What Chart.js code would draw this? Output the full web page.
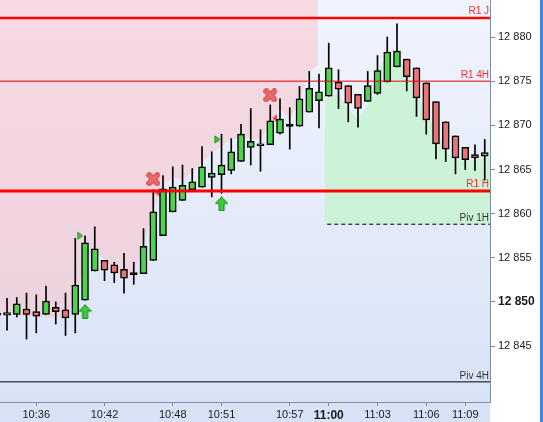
<!DOCTYPE html>
<html>
<head>
<meta charset="utf-8">
<script src="https://cdn.jsdelivr.net/npm/chart.js@4.4.0/dist/chart.umd.min.js"></script>
<style>
  html, body { margin: 0; padding: 0; background: #fff; }
  #wrap { width: 543px; height: 422px; position: relative; }
</style>
</head>
<body>
<div id="wrap"><canvas id="chart"></canvas></div>
<script>
// candles, first one sits just left of the visible area (index -1)
const firstIndex = -1;
const opens  = [12848.5, 12848.5, 12848.6, 12849.2, 12848.9, 12848.6, 12849.4, 12849.1, 12848.6, 12850.2,
                12853.5, 12854.7, 12854.2, 12853.7, 12853.2, 12853.2, 12854.7, 12857.5, 12860.2, 12861.5,
                12862.7, 12863.0, 12864.1, 12864.4, 12864.9, 12865.9, 12867.5, 12867.9, 12867.8, 12869.1,
                12870.0, 12869.9, 12871.5, 12872.8, 12873.3, 12874.9, 12874.5, 12873.5, 12872.7, 12873.6,
                12874.9, 12876.6, 12877.5, 12876.5, 12874.8, 12872.7, 12870.4, 12868.8, 12867.5, 12866.7,
                12866.5];
const closes = [12848.7, 12848.8, 12849.8, 12848.6, 12848.4, 12850.1, 12848.9, 12848.2, 12851.9, 12856.7,
                12856.0, 12853.6, 12853.3, 12852.7, 12853.2, 12856.3, 12860.2, 12862.8, 12863.0, 12863.2,
                12863.6, 12865.3, 12864.6, 12865.5, 12867.0, 12869.0, 12868.2, 12867.7, 12870.5, 12870.7,
                12870.0, 12873.0, 12874.2, 12873.8, 12876.5, 12874.1, 12872.5, 12871.9, 12874.5, 12876.2,
                12878.3, 12878.4, 12875.5, 12873.1, 12870.6, 12867.9, 12867.3, 12866.3, 12866.1, 12866.3,
                12866.9];
const highs  = [12849.6, 12850.4, 12850.5, 12851.0, 12850.8, 12851.8, 12850.0, 12851.0, 12857.2, 12857.5,
                12858.5, 12854.7, 12854.5, 12855.5, 12854.5, 12858.3, 12862.7, 12864.3, 12865.3, 12865.5,
                12865.1, 12867.6, 12867.0, 12869.0, 12868.5, 12870.1, 12871.9, 12869.5, 12872.3, 12873.0,
                12872.0, 12874.4, 12876.1, 12875.8, 12879.3, 12876.3, 12874.5, 12873.5, 12876.1, 12877.9,
                12880.0, 12881.5, 12877.5, 12876.5, 12874.8, 12872.7, 12870.4, 12868.8, 12867.5, 12867.8,
                12868.4];
const lows   = [12847.6, 12846.8, 12848.3, 12845.8, 12846.5, 12848.6, 12847.5, 12846.2, 12846.5, 12850.2,
                12853.5, 12852.4, 12852.2, 12851.0, 12852.0, 12853.2, 12854.7, 12857.5, 12860.2, 12861.5,
                12862.7, 12863.0, 12861.9, 12862.3, 12864.5, 12865.9, 12865.5, 12864.8, 12867.8, 12869.0,
                12867.3, 12869.9, 12871.5, 12869.7, 12873.3, 12871.9, 12870.4, 12869.8, 12872.7, 12873.5,
                12874.9, 12876.6, 12873.9, 12871.0, 12869.0, 12866.2, 12865.9, 12864.5, 12865.0, 12864.9,
                12863.8];

// time axis labels and the candle each sits under
const xTickLabels = ['10:36', '10:42', '10:48', '10:51', '10:57', '11:00', '11:03', '11:06', '11:09'];
const xTickIndex  = [3, 10, 17, 22, 29, 33, 38, 43, 47];
const yTicks = [12845, 12850, 12855, 12860, 12865, 12870, 12875, 12880];

// pivot / resistance levels
const levelNames  = ['R1 J', 'R1 4H', 'R1 H', 'Piv 1H', 'Piv 4H'];
const levelValues = [12882.15, 12875.0, 12862.55, 12858.8, 12840.95];
const levelFrom   = [null, null, null, 32.85, null];

// shaded zones
const redZoneX = [-0.72, 0, 1, 2, 3, 4, 5, 6, 7, 8, 9, 10, 11, 12, 13, 14, 15, 16, 17, 18, 19, 20,
                  21, 22, 23, 24, 25, 26, 27, 28, 29, 30, 31, 31.9];
const redZoneY = [12848.8, 12848.6, 12848.4, 12848.4, 12848.3, 12848.3, 12848.3, 12848.2, 12850.3, 12854.5,
                  12855.9, 12854.8, 12853.7, 12852.7, 12853.1, 12856.5, 12860.4, 12863.2, 12864.1, 12863.8,
                  12864.7, 12865.8, 12866.9, 12867.6, 12868.4, 12868.7, 12868.4, 12868.4, 12870.1, 12872.0,
                  12870.6, 12872.9, 12876.1, 12876.8];
const greenZoneX = [32.6, 33, 34, 35, 36, 37, 38, 39, 40, 41, 42, 43, 44, 45, 46, 47, 48, 49, 49.54];
const greenZoneY = [12872.9, 12873.2, 12873.7, 12871.8, 12870.8, 12872.3, 12876.1, 12878.0, 12878.2, 12876.1,
                    12873.7, 12871.5, 12869.2, 12867.2, 12866.1, 12865.9, 12866.1, 12866.3, 12866.3];

// signal markers
const buyArrows  = [{x: 8, y: 12848.9}, {x: 22, y: 12861.1}];
const greenFlags = [{x: 7.49, y: 12857.5}, {x: 21.57, y: 12868.4}];
const redCrosses = [{x: 15, y: 12863.9}, {x: 27, y: 12873.4}];
const redFlags   = [{x: 15.38, y: 12862.4}, {x: 27.44, y: 12870.8}];

const xMin = -0.72, xMax = 49.54;
const yMin = 12838.67, yMax = 12884.19;

const idx = opens.map((_, k) => firstIndex + k);
const bodies = idx.map((x, k) => {
  const o = opens[k], c = closes[k];
  if (Math.abs(o - c) < 0.1) return {x, y: [o - 0.12, o + 0.12]};
  return {x, y: [o, c]};
});
const bodyColors = idx.map((x, k) => {
  const o = opens[k], c = closes[k];
  if (Math.abs(o - c) < 0.1) return '#000';
  return c > o ? '#4fd24f' : '#e87676';
});
const wicks = idx.map((x, k) => ({x, y: [lows[k], highs[k]]}));

function icon(w, h, draw) {
  const c = document.createElement('canvas');
  c.width = w; c.height = h;
  draw(c.getContext('2d'));
  return c;
}
const arrowIcon = icon(13, 15, g => {
  g.beginPath();
  g.moveTo(6.5, 0.5); g.lineTo(12.5, 7); g.lineTo(9, 7); g.lineTo(9, 14.5);
  g.lineTo(4, 14.5); g.lineTo(4, 7); g.lineTo(0.5, 7); g.closePath();
  g.fillStyle = '#3ec93e'; g.fill();
  g.strokeStyle = '#0d8a0d'; g.lineWidth = 1; g.stroke();
});
const greenFlagIcon = icon(7, 9, g => {
  g.beginPath(); g.moveTo(1, 1); g.lineTo(6, 4.5); g.lineTo(1, 8); g.closePath();
  g.fillStyle = '#3ccf3c'; g.fill();
  g.strokeStyle = '#119011'; g.lineWidth = 1; g.stroke();
});
const redFlagIcon = icon(7, 10, g => {
  g.beginPath(); g.moveTo(6, 1); g.lineTo(1, 5); g.lineTo(6, 9); g.closePath();
  g.fillStyle = '#e44a4a'; g.fill();
});
const crossIcon = icon(14, 14, g => {
  g.lineCap = 'round';
  const xs = () => { g.beginPath(); g.moveTo(3, 3); g.lineTo(11, 11); g.moveTo(11, 3); g.lineTo(3, 11); g.stroke(); };
  g.strokeStyle = '#c94646'; g.lineWidth = 5.5; xs();
  g.strokeStyle = '#ee6a6a'; g.lineWidth = 3.5; xs();
});

const levelStyles = [
  {color: '#ff0000', width: 2.5, dash: []},
  {color: '#e00000', width: 1, dash: []},
  {color: '#ff0000', width: 3, dash: []},
  {color: '#000000', width: 1, dash: [4, 3]},
  {color: '#000000', width: 1, dash: []}
];
const levelLabelColors = ['#ff2a2a', '#ff2a2a', '#ff2a2a', '#333', '#333'];

const levelSets = levelValues.map((v, k) => ({
  type: 'line',
  data: [{x: levelFrom[k] === null ? xMin : levelFrom[k], y: v}, {x: xMax, y: v}],
  borderColor: levelStyles[k].color,
  borderWidth: levelStyles[k].width,
  borderDash: levelStyles[k].dash,
  pointRadius: 0,
  fill: false,
  order: 1
}));

const backdrop = {
  id: 'backdrop',
  beforeDraw(chart) {
    const {ctx, chartArea: a, width, height} = chart;
    ctx.save();
    const grad = ctx.createLinearGradient(0, 0, 0, height);
    grad.addColorStop(0, '#f0f4fd');
    grad.addColorStop(1, '#d8e2f6');
    ctx.fillStyle = grad;
    ctx.fillRect(0, 0, a.right, height);
    ctx.fillStyle = '#ffffff';
    ctx.fillRect(a.right, 0, width - a.right, height);
    ctx.fillStyle = '#3d8ae4';
    ctx.fillRect(width - 3, 0, 3, height);
    ctx.restore();
  }
};

const levelLabels = {
  id: 'levelLabels',
  afterDatasetsDraw(chart) {
    const {ctx, chartArea: a} = chart;
    const y = chart.scales.y;
    ctx.save();
    ctx.font = '10px "Liberation Sans", Arial, sans-serif';
    ctx.textAlign = 'right';
    ctx.textBaseline = 'alphabetic';
    levelValues.forEach((v, k) => {
      const py = y.getPixelForValue(v);
      ctx.fillStyle = levelLabelColors[k];
      ctx.fillText(levelNames[k], a.right - 1, py - 2.5 - levelStyles[k].width / 2);
    });
    ctx.restore();
  }
};

const fontFamily = '"Liberation Sans", Arial, sans-serif';

new Chart(document.getElementById('chart'), {
  type: 'bar',
  data: {
    datasets: [
      ...levelSets,
      {type: 'scatter', data: buyArrows, pointStyle: arrowIcon, pointRadius: 6, order: 2},
      {type: 'scatter', data: greenFlags, pointStyle: greenFlagIcon, pointRadius: 4, order: 2},
      {type: 'scatter', data: redCrosses, pointStyle: crossIcon, pointRadius: 6, order: 2},
      {
        type: 'bar', data: bodies, backgroundColor: bodyColors, borderColor: '#000',
        borderWidth: 1.5, borderSkipped: false, barThickness: 7, grouped: false, order: 3
      },
      {type: 'bar', data: wicks, backgroundColor: '#000', barThickness: 1, grouped: false, order: 4},
      {type: 'scatter', data: redFlags, pointStyle: redFlagIcon, pointRadius: 4, order: 5},
      {
        type: 'line', data: greenZoneX.map((x, k) => ({x, y: greenZoneY[k]})),
        borderWidth: 0, pointRadius: 0, tension: 0,
        backgroundColor: 'rgba(196, 244, 206, 0.8)', fill: {value: levelValues[3]}, order: 6
      },
      {
        type: 'line', data: redZoneX.map((x, k) => ({x, y: redZoneY[k]})),
        borderWidth: 0, pointRadius: 0, tension: 0,
        backgroundColor: 'rgba(255, 186, 194, 0.45)', fill: 'end', order: 7
      }
    ]
  },
  options: {
    responsive: true,
    maintainAspectRatio: false,
    animation: false,
    layout: {autoPadding: false, padding: {left: 0, right: 3, top: 0, bottom: 0}},
    plugins: {legend: {display: false}, tooltip: {enabled: false}},
    scales: {
      x: {
        type: 'linear', min: xMin, max: xMax, offset: false,
        grid: {offset: false, drawOnChartArea: false, drawTicks: true, tickLength: 4, color: '#7f8ea3'},
        border: {display: true, color: '#7f8ea3', width: 1},
        afterBuildTicks: s => { s.ticks = xTickIndex.map(v => ({value: v})); },
        afterFit: s => { s.height = 20; s.paddingLeft = 0; s.paddingRight = 0; },
        ticks: {
          autoSkip: false, maxRotation: 0, padding: 2, color: '#1a1a1a',
          callback: v => xTickLabels[xTickIndex.indexOf(v)],
          font: c => (c.tick && c.tick.value === 33)
            ? {family: fontFamily, size: 12, weight: 'bold'}
            : {family: fontFamily, size: 11}
        }
      },
      y: {
        type: 'linear', position: 'right', min: yMin, max: yMax, beginAtZero: false,
        grid: {drawOnChartArea: false, drawTicks: true, tickLength: 5, color: '#7f8ea3'},
        border: {display: true, color: '#7f8ea3', width: 1},
        afterBuildTicks: s => { s.ticks = yTicks.map(v => ({value: v})); },
        afterFit: s => { s.width = 50; s.paddingTop = 0; s.paddingBottom = 0; },
        ticks: {
          padding: 3, color: '#1a1a1a',
          callback: v => String(v).replace(/^(\d{2})(\d{3})$/, '$1 $2'),
          font: c => (c.tick && c.tick.value === 12850)
            ? {family: fontFamily, size: 12, weight: 'bold'}
            : {family: fontFamily, size: 11}
        }
      }
    }
  },
  plugins: [backdrop, levelLabels]
});
</script>
</body>
</html>
